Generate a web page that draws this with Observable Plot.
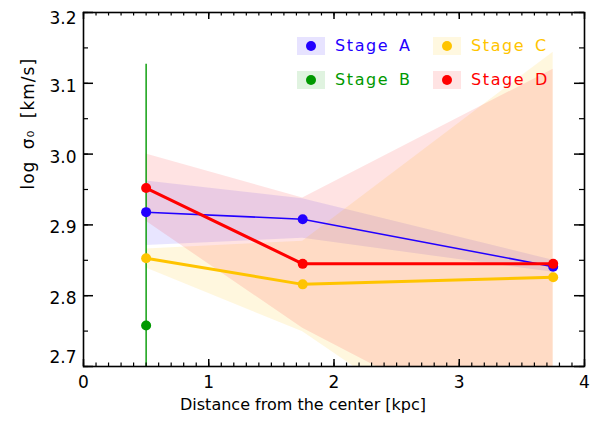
<!DOCTYPE html>
<html><head><meta charset="utf-8">
<script src="https://cdn.jsdelivr.net/npm/d3@7"></script>
<script src="https://cdn.jsdelivr.net/npm/@observablehq/plot@0.6"></script>
<style>
body{margin:0;background:#fff;}
#wrap{position:relative;width:590px;height:429px;font-family:"DejaVu Sans",sans-serif;}
.leg{position:absolute;display:flex;align-items:center;height:18px;}
.sw{width:28px;height:18px;display:flex;align-items:center;justify-content:center}
.dot{width:10px;height:10px;border-radius:50%}
.lt{margin-left:10px;font-size:16px;letter-spacing:1.6px;word-spacing:3px;line-height:18px;}
</style></head>
<body><div id="wrap"></div>
<script>
// ---- data ----
const distances = [0.5, 1.75, 3.75];
const stageA   = [2.918, 2.908, 2.841];
const stageALo = [2.871, 2.881, 2.833];
const stageAHi = [2.962, 2.937, 2.850];
const stageC   = [2.853, 2.816, 2.826];
const stageCLo = [2.839, 2.749, 2.508];
const stageCHi = [2.866, 2.877, 3.144];
const stageD   = [2.952, 2.845, 2.845];
const stageDLo = [2.905, 2.754, 2.570];
const stageDHi = [3.000, 2.938, 3.120];
const stageBx  = [0.5];
const stageB   = [2.758];
const stageBLo = [2.389];
const stageBHi = [3.127];
const stageNames  = ["Stage A", "Stage B", "Stage C", "Stage D"];
const stageColors = ["#2200ff", "#009900", "#ffc400", "#ff0000"];
const xTicks = [0, 1, 2, 3, 4];
const yTicks = [2.7, 2.8, 2.9, 3.0, 3.1, 3.2];
const xLabel = "Distance from the center [kpc]";
const yLabel = "log σ₀ [km/s]";

// ---- layout ----
const W = 590, H = 429, mL = 83, mR = 6, mT = 12, mB = 63;
const innerW = W - mL - mR, innerH = H - mT - mB;
const xMinor = d3.range(0, 41).map(i => i / 10);
const yMinor = d3.range(0, 11).map(i => 2.7 + i * 0.05);
const fmt = d3.format(".1f");
const [cA, cB, cC, cD] = stageColors;

const plot = Plot.plot({
  width: W, height: H,
  marginLeft: mL, marginRight: mR, marginTop: mT, marginBottom: mB,
  x: {domain: [0, 4]},
  y: {domain: [2.7, 3.2]},
  style: {fontFamily: "DejaVu Sans, sans-serif", background: "white"},
  marks: [
    // shaded bands
    Plot.areaY(distances, {x: distances, y1: stageALo, y2: stageAHi, fill: cA, fillOpacity: 0.1, clip: true}),
    Plot.areaY(distances, {x: distances, y1: stageCLo, y2: stageCHi, fill: cC, fillOpacity: 0.13, clip: true}),
    Plot.areaY(distances, {x: distances, y1: stageDLo, y2: stageDHi, fill: cD, fillOpacity: 0.11, clip: true}),
    // stage B error bar
    Plot.ruleX(stageBx, {x: stageBx, y1: stageBLo, y2: stageBHi, stroke: cB, strokeWidth: 1.4, clip: true}),
    // stage A
    Plot.line(distances, {x: distances, y: stageA, stroke: cA, strokeWidth: 1.5}),
    Plot.dot(distances, {x: distances, y: stageA, r: 5, fill: cA}),
    // stage B
    Plot.dot(stageBx, {x: stageBx, y: stageB, r: 5, fill: cB}),
    // stage C
    Plot.line(distances, {x: distances, y: stageC, stroke: cC, strokeWidth: 3}),
    Plot.dot(distances, {x: distances, y: stageC, r: 5, fill: cC}),
    // stage D
    Plot.line(distances, {x: distances, y: stageD, stroke: cD, strokeWidth: 3}),
    Plot.dot(distances, {x: distances, y: stageD, r: 5, fill: cD}),
    // inward ticks on all four sides
    Plot.tickX(xTicks, {x: d => d, insetTop: innerH - 7, stroke: "black", strokeWidth: 1.5}),
    Plot.tickX(xMinor, {x: d => d, insetTop: innerH - 3.5, stroke: "black", strokeWidth: 1.2}),
    Plot.tickX(xTicks, {x: d => d, insetBottom: innerH - 7, stroke: "black", strokeWidth: 1.5}),
    Plot.tickX(xMinor, {x: d => d, insetBottom: innerH - 3.5, stroke: "black", strokeWidth: 1.2}),
    Plot.tickY(yTicks, {y: d => d, insetRight: innerW - 10, stroke: "black", strokeWidth: 1.5}),
    Plot.tickY(yMinor, {y: d => d, insetRight: innerW - 5, stroke: "black", strokeWidth: 1.2}),
    Plot.tickY(yTicks, {y: d => d, insetLeft: innerW - 10, stroke: "black", strokeWidth: 1.5}),
    Plot.tickY(yMinor, {y: d => d, insetLeft: innerW - 5, stroke: "black", strokeWidth: 1.2}),
    Plot.frame({stroke: "black", strokeWidth: 1.6}),
    // tick labels
    Plot.axisX(xTicks, {tickSize: 0, tickPadding: 9, fontSize: 17, tickFormat: d => String(d), label: null, color: "black"}),
    Plot.axisY(yTicks.slice(1, 5), {tickSize: 0, tickPadding: 7, dy: 3, fontSize: 17, tickFormat: fmt, label: null, color: "black"}),
    Plot.axisY(yTicks.slice(5), {tickSize: 0, tickPadding: 7, dy: 6, fontSize: 17, tickFormat: fmt, label: null, color: "black"}),
    Plot.axisY(yTicks.slice(0, 1), {tickSize: 0, tickPadding: 7, dy: -9, fontSize: 17, tickFormat: fmt, label: null, color: "black"}),
    // axis titles
    Plot.text([xLabel], {text: d => d, frameAnchor: "bottom", lineAnchor: "middle", dy: 38, dx: -31, fontSize: 16, fill: "black"}),
    Plot.text([yLabel], {text: d => d, frameAnchor: "left", rotate: -90, dx: -55, fontSize: 17, fill: "black"})
  ]
});

const wrap = document.getElementById("wrap");
wrap.appendChild(plot);
d3.select(plot).selectAll("text").filter(function() { return this.textContent === yLabel; })
  .style("letter-spacing", "1px").style("word-spacing", "5px");

// legend (inside the plot area, upper right)
const legPos = [[297, 37], [297, 71], [433, 37], [433, 71]];
const swatchAlpha = [0.11, 0.12, 0.12, 0.11];
stageNames.forEach((name, i) => {
  const c = d3.color(stageColors[i]);
  const bg = `rgba(${c.r},${c.g},${c.b},${swatchAlpha[i]})`;
  const div = document.createElement("div");
  div.className = "leg";
  div.style.left = legPos[i][0] + "px";
  div.style.top = legPos[i][1] + "px";
  div.innerHTML = `<div class="sw" style="background:${bg}"><div class="dot" style="background:${stageColors[i]}"></div></div><span class="lt" style="color:${stageColors[i]}">${name}</span>`;
  wrap.appendChild(div);
});
</script>
</body></html>
